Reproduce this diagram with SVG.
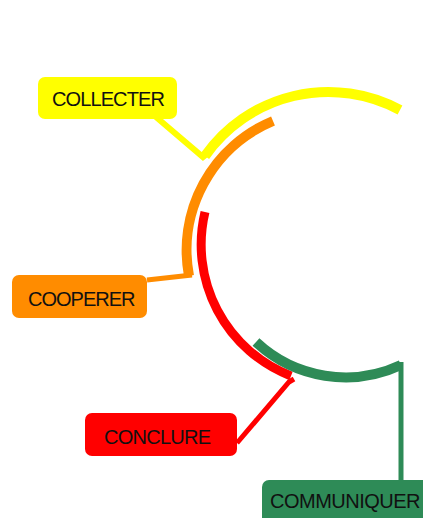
<svg xmlns="http://www.w3.org/2000/svg" width="423" height="518" viewBox="0 0 423 518">
<style>
.arc{fill:none;stroke-linecap:butt}
.con{fill:none;stroke-linejoin:miter}
.lbl{font-family:"Liberation Sans",Arial,sans-serif;font-size:20px;fill:#111}
.y{stroke:#FFFF00}.o{stroke:#FF8C00}.r{stroke:#FF0000}.g{stroke:#2E8B57}
</style>
<rect width="423" height="518" fill="#fff"/>
<g id="connectors">
<polyline class="con y" stroke-width="6" points="156,117 203,157 208,153"/>
<polyline class="con o" stroke-width="5" points="147,280 192,275"/>
<polyline class="con r" stroke-width="5" points="237,443 289,382 294,379"/>
<line class="con g" stroke-width="5" x1="401" y1="362" x2="401" y2="482"/>
</g>
<g id="arcs">
<path class="arc y" stroke-width="10" d="M205,156 A151,151 0 0 1 400,110"/>
<path class="arc o" stroke-width="10" d="M273,121 A140,140 0 0 0 189,276"/>
<path class="arc r" stroke-width="9" d="M205,212 A141,141 0 0 0 291,376"/>
<path class="arc g" stroke-width="10" d="M256,342 A131,131 0 0 0 401,365"/>
</g>
<g id="collecter">
<rect x="38" y="77" width="139" height="42" rx="7" fill="#FFFF00"/>
<text class="lbl" x="52" y="106" letter-spacing="-0.9">COLLECTER</text>
</g>
<g id="cooperer">
<rect x="12" y="275" width="135" height="43" rx="7" fill="#FF8C00"/>
<text class="lbl" x="28" y="306" letter-spacing="-1">COOPERER</text>
</g>
<g id="conclure">
<rect x="85" y="413" width="152" height="43" rx="7" fill="#FF0000"/>
<text class="lbl" x="104" y="444" letter-spacing="-0.75">CONCLURE</text>
</g>
<g id="communiquer">
<rect x="262" y="480" width="170" height="50" rx="7" fill="#2E8B57"/>
<text class="lbl" x="270" y="508" letter-spacing="-0.5">COMMUNIQUER</text>
</g>
</svg>
